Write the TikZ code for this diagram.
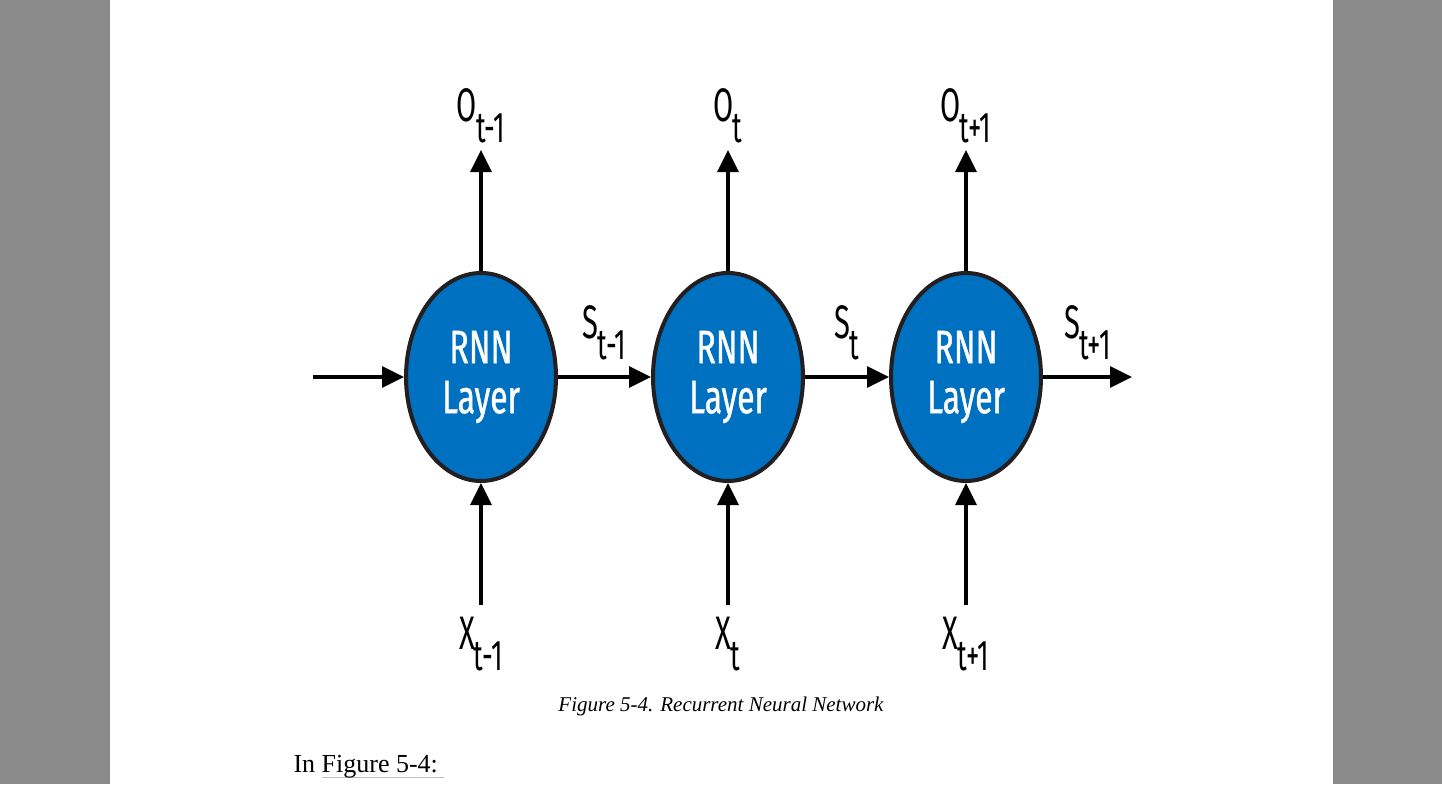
\documentclass[tikz,border=0pt]{standalone}
\usepackage{fontspec}
\setmainfont{Liberation Serif}
\newfontfamily\layerfont[FakeStretch=0.68,FakeBold=0.8]{Fira Sans}
\newfontfamily\tagfont[FakeStretch=0.62]{Fira Sans}
\usetikzlibrary{arrows.meta, positioning, shapes.geometric}
\definecolor{rnnblue}{RGB}{0,112,192}
\definecolor{rimgray}{RGB}{35,31,32}
\definecolor{pagegray}{RGB}{138,138,138}
\definecolor{linegray}{RGB}{190,190,190}
\newcommand{\tagtext}[2]{{\fontsize{47}{47}\tagfont #1}\hspace{-1pt}\raisebox{-21pt}{\fontsize{43}{43}\tagfont #2}}

\begin{document}
\begin{tikzpicture}[x=1pt,y=1pt,node distance=247pt,on grid,
        layer/.style={ellipse, draw=rimgray, line width=4pt, fill=rnnblue, minimum width=150pt,
            minimum height=208pt, inner sep=0pt, text=white, align=center,
            font=\fontsize{47}{50}\layerfont},
        link/.style={line width=3.2pt, -{Triangle[length=22pt,width=21pt]}},
        tag/.style={inner sep=0pt}]
        \fill[pagegray] (0,0) rectangle (110,-784);
        \fill[pagegray] (1333,0) rectangle (1442,-784);
        \useasboundingbox (0,0) rectangle (1442,-784);

        \node[layer]                (rnn_1)    at (481,-377)            {RNN\\Layer};
        \node[layer]                (rnn_2)    [right=of rnn_1]         {RNN\\Layer};
        \node[layer]                (rnn_3)    [right=238pt of rnn_2]   {RNN\\Layer};
        \node[tag, anchor=south]    (o_1)      at (481,-143)            {\tagtext{O}{t-1}};
        \node[tag, anchor=south]    (o_2)      at (728,-143)            {\tagtext{O}{t}};
        \node[tag, anchor=south]    (o_3)      at (966,-143)            {\tagtext{O}{t+1}};
        \node[tag, anchor=north]    (x_1)      at (481,-617)            {\tagtext{X}{t-1}};
        \node[tag, anchor=north]    (x_2)      at (728,-617)            {\tagtext{X}{t}};
        \node[tag, anchor=north]    (x_3)      at (966,-617)            {\tagtext{X}{t+1}};
        \coordinate                 (s_in)     at (313,-377);
        \coordinate                 (s_out)    at (1132,-377);

        \path[link] (s_in) edge (rnn_1)
        (rnn_1) edge node[tag, above=15pt] {\tagtext{S}{t-1}} (rnn_2)
        edge [shorten >=7pt] (o_1)
        (rnn_2) edge node[tag, above=15pt] {\tagtext{S}{t}} (rnn_3)
        edge [shorten >=7pt] (o_2)
        (rnn_3) edge node[tag, above=15pt] {\tagtext{S}{t+1}} (s_out)
        edge [shorten >=7pt] (o_3)
        (x_1) edge [shorten <=12pt] (rnn_1)
        (x_2) edge [shorten <=12pt] (rnn_2)
        (x_3) edge [shorten <=12pt] (rnn_3)
        ;

        \node                       (caption)  at (721,-706)
            {\fontsize{21}{25}\selectfont\itshape Figure 5-4. Recurrent Neural Network};
        \node[anchor=base west]     (intro)    at (290,-772)
            {\fontsize{26}{30}\selectfont In \rlap{\color{linegray}\rule[-6pt]{122pt}{1.2pt}}Figure 5-4:};
    \end{tikzpicture}
\end{document}
